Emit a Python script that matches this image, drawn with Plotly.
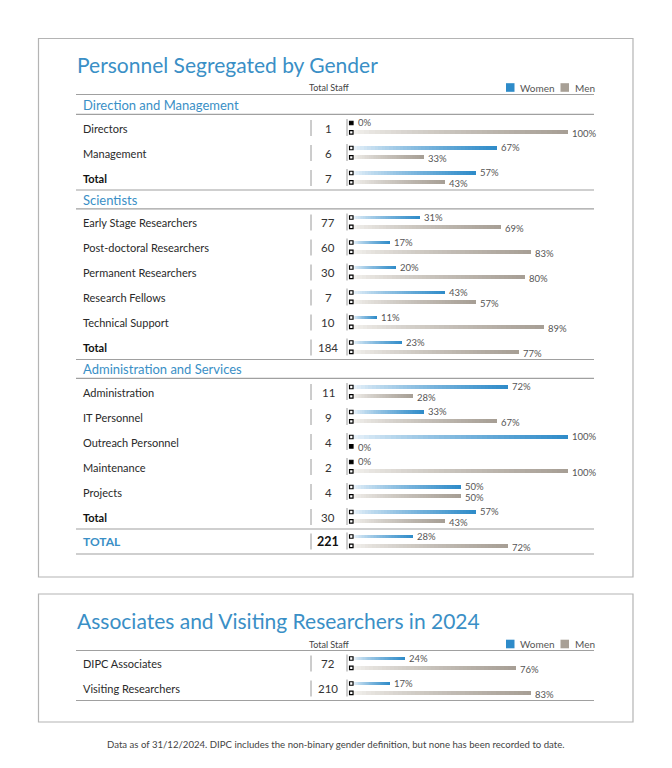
import plotly.graph_objects as go

W, H = 672, 768

# ---------------- data ----------------
section_names = ["Direction and Management", "Scientists", "Administration and Services"]

dm_labels = ["Directors", "Management", "Total"]
dm_staff = [1, 6, 7]
dm_women = [0, 67, 57]
dm_men = [100, 33, 43]

sci_labels = ["Early Stage Researchers", "Post-doctoral Researchers", "Permanent Researchers",
              "Research Fellows", "Technical Support", "Total"]
sci_staff = [77, 60, 30, 7, 10, 184]
sci_women = [31, 17, 20, 43, 11, 23]
sci_men = [69, 83, 80, 57, 89, 77]

adm_labels = ["Administration", "IT Personnel", "Outreach Personnel", "Maintenance", "Projects", "Total"]
adm_staff = [11, 9, 4, 2, 4, 30]
adm_women = [72, 33, 100, 0, 50, 57]
adm_men = [28, 67, 0, 100, 50, 43]

grand_labels = ["TOTAL"]
grand_staff = [221]
grand_women = [28]
grand_men = [72]

assoc_labels = ["DIPC Associates", "Visiting Researchers"]
assoc_staff = [72, 210]
assoc_women = [24, 17]
assoc_men = [76, 83]

title1 = "Personnel Segregated by Gender"
title2 = "Associates and Visiting Researchers in 2024"
footer = "Data as of 31/12/2024. DIPC includes the non-binary gender definition, but none has been recorded to date."

# ---------------- style ----------------
BLUE_T = "#3a8fc6"
WOMEN_DARK = (46, 139, 201)
WOMEN_LIGHT = (238, 245, 251)
MEN_DARK = (166, 158, 148)
MEN_LIGHT = (244, 242, 239)
TXT = "#2a2a2a"
PCT = "#555555"
LINE = "#a0a0a0"
FONT = "Lato"

# the page body has an 8px margin: the figure is made smaller and all
# positions below are given in window pixels
OFF = 8
FW, FH = W - 2 * OFF, H - 2 * OFF

X0 = 353.0      # window px position of 0%
PXP = 2.15      # px per percent
LX0, LX1 = 76, 594
STEP = 25

def px(xpix):
    return (xpix - OFF) / FW

# ---------------- build rows ----------------
rows = []
hlines = []
headers = []

blocks = [(dm_labels, dm_staff, dm_women, dm_men),
          (sci_labels, sci_staff, sci_women, sci_men),
          (adm_labels, adm_staff, adm_women, adm_men)]

y = 128.0
hlines.append(y - 33.5)
for si, (labs, stf, wom, men) in enumerate(blocks):
    if si > 0:
        prev = rows[-1]["y"]
        hlines.append(prev + 12)
        y = prev + 44.5
    hlines.append(y - 13.7)
    headers.append((section_names[si], y - 22.8))
    for i, lab in enumerate(labs):
        rows.append(dict(label=lab, staff=stf[i], women=wom[i], men=men[i], y=y,
                         kind="total" if lab == "Total" else "normal"))
        y += STEP
last = rows[-1]["y"]
hlines.append(last + 12)
gy = last + 24.5
for i, lab in enumerate(grand_labels):
    rows.append(dict(label=lab, staff=grand_staff[i], women=grand_women[i], men=grand_men[i],
                     y=gy, kind="grand"))
hlines.append(gy + 12.5)

y2 = 663.5
hlines.append(y2 - 13)
for i, lab in enumerate(assoc_labels):
    rows.append(dict(label=lab, staff=assoc_staff[i], women=assoc_women[i], men=assoc_men[i],
                     y=y2 + i * STEP, kind="normal"))
hlines.append(y2 + STEP + 12)

WOFF, MOFF = -5.0, 4.3

fig = go.Figure()

def mix(a, b, t):
    return "rgb(%d,%d,%d)" % tuple(round(a[j] + (b[j] - a[j]) * t) for j in range(3))

N = 40
wy = [r["y"] + WOFF for r in rows]
my = [r["y"] + MOFF for r in rows]
wv = [r["women"] for r in rows]
mv = [r["men"] for r in rows]
for k in range(N, 0, -1):
    t = ((k - 0.5) / N) ** 0.75
    fig.add_trace(go.Bar(orientation="h", y=wy, x=[v * k / N for v in wv], width=3.8,
                         marker=dict(color=mix(WOMEN_LIGHT, WOMEN_DARK, t), line=dict(width=0)),
                         showlegend=False, hoverinfo="skip"))
    fig.add_trace(go.Bar(orientation="h", y=my, x=[v * k / N for v in mv], width=3.8,
                         marker=dict(color=mix(MEN_LIGHT, MEN_DARK, t), line=dict(width=0)),
                         showlegend=False, hoverinfo="skip"))

my_all = wy + my
vals_all = wv + mv
fig.add_trace(go.Scatter(
    x=[-0.8] * len(my_all), y=my_all, mode="markers",
    marker=dict(symbol=["square" if v == 0 else "square-open" for v in vals_all],
                size=3.5, color="black", line=dict(color="black", width=1.2)),
    showlegend=False, hoverinfo="skip"))

ann = []
shapes = []

def text(x, y, s, size, color=TXT, anchor="left", ref="paper", xshift=0, yshift=0):
    ann.append(dict(x=x, y=y, xref=ref, yref="y", text=s, showarrow=False,
                    xanchor=anchor, yanchor="middle", xshift=xshift, yshift=yshift,
                    font=dict(size=size, color=color, family=FONT)))

for r in rows:
    text(r["women"], r["y"] + WOFF, "%d%%" % r["women"], 9.5, PCT, ref="x",
         xshift=2 if r["women"] else 3, yshift=0.5)
    text(r["men"], r["y"] + MOFF, "%d%%" % r["men"], 9.5, PCT, ref="x",
         xshift=2 if r["men"] else 3, yshift=-1.5)

for r in rows:
    size = 11
    if r["kind"] == "total":
        lab = "<b>%s</b>" % r["label"]
        num = str(r["staff"])
        col = "#111111"
    elif r["kind"] == "grand":
        lab = "<b>%s</b>" % r["label"]
        num = "<b>%d</b>" % r["staff"]
        col = BLUE_T
        size = 12
    else:
        lab = r["label"]
        num = str(r["staff"])
        col = TXT
    text(px(81), r["y"], lab, size, col)
    text(px(328), r["y"], num, 11.5 if r["kind"] != "grand" else 12.5,
         "#111111" if r["kind"] == "grand" else "#333333", anchor="center")
    shapes.append(dict(type="line", xref="paper", yref="y", x0=px(311), x1=px(311),
                       y0=r["y"] - 8, y1=r["y"] + 8, line=dict(color="#9a9a9a", width=1)))
    shapes.append(dict(type="line", xref="paper", yref="y", x0=px(347), x1=px(347),
                       y0=r["y"] - 9, y1=r["y"] + 8, line=dict(color="#9a9a9a", width=1)))

for s, yy in headers:
    text(px(81), yy, s, 13, BLUE_T)

for yy in hlines:
    shapes.append(dict(type="line", xref="paper", yref="y", x0=px(LX0), x1=px(LX1),
                       y0=yy, y1=yy, line=dict(color=LINE, width=1.2)))

for (y0b, y1b) in [(38.5, 577), (594, 722)]:
    shapes.append(dict(type="rect", xref="paper", yref="y", x0=px(38.5), x1=px(633),
                       y0=y0b, y1=y1b, line=dict(color="#b4b4b4", width=1.2)))

text(px(75), 64, title1, 21, BLUE_T)
text(px(75), 620, title2, 21, BLUE_T)

for hy in [87.5, 644]:
    text(px(329), hy, "Total Staff", 9, "#444444", anchor="center")
    shapes.append(dict(type="rect", xref="paper", yref="y", x0=px(506), x1=px(514.5),
                       y0=hy - 4.3, y1=hy + 4.3, line=dict(width=0), fillcolor="rgb(46,139,201)"))
    text(px(518), hy, "Women", 10, "#555555")
    shapes.append(dict(type="rect", xref="paper", yref="y", x0=px(560.5), x1=px(569),
                       y0=hy - 4.3, y1=hy + 4.3, line=dict(width=0), fillcolor="rgb(168,160,150)"))
    text(px(572.5), hy, "Men", 10, "#555555")

text(px(336), 744, footer, 9.6, "#444444", anchor="center")

fig.update_layout(
    width=FW, height=FH, margin=dict(l=0, r=0, t=0, b=0),
    paper_bgcolor="white", plot_bgcolor="white",
    barmode="overlay", bargap=0,
    font=dict(family=FONT),
    xaxis=dict(range=[-(X0 - OFF) / PXP, (W - OFF - X0) / PXP], visible=False, fixedrange=True),
    yaxis=dict(range=[FH + OFF, OFF], visible=False, fixedrange=True),
    annotations=ann, shapes=shapes, showlegend=False,
)

fig.write_html("out.html")
